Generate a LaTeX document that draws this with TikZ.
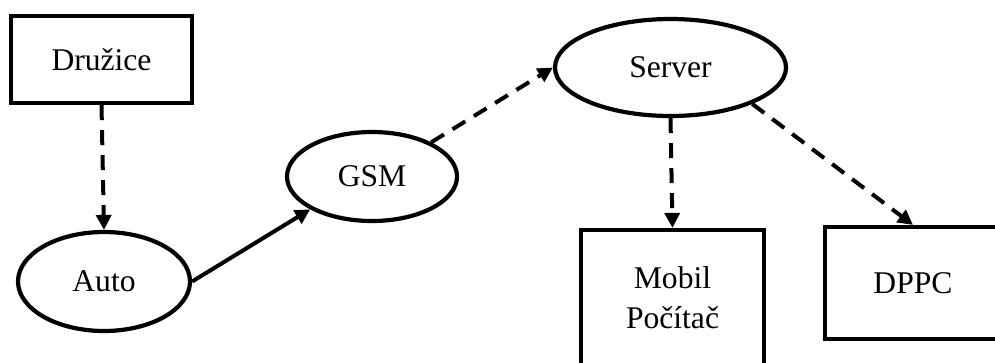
\documentclass[tikz,border=0pt]{standalone}
\usepackage{fontspec}
\setmainfont{Liberation Serif}
\usetikzlibrary{shapes.geometric,arrows.meta}
\begin{document}
\begin{tikzpicture}[x=1bp,y=-1bp,
  font=\fontsize{31.6bp}{40bp}\selectfont,
  boxnode/.style={draw,line width=4.2bp,rectangle,inner sep=0pt,align=center},
  ovalnode/.style={draw,line width=4.2bp,ellipse,inner sep=0pt},
  link/.style={line width=4bp,-{Triangle[length=15bp,width=15bp]}},
  dashlink/.style={link,dash pattern=on 15bp off 10bp}]
  \useasboundingbox (0,0) rectangle (995,362);
  \clip (0,0) rectangle (995,362);

  % nodes
  \node[boxnode,minimum width=181bp,minimum height=87bp] (druzice) at (101.5,59.5) {Družice};
  \node[ovalnode,minimum width=172bp,minimum height=99bp] (auto) at (104,281.5) {Auto};
  \node[ovalnode,minimum width=170bp,minimum height=89bp] (gsm) at (372,176.5) {GSM};
  \node[ovalnode,minimum width=231bp,minimum height=97bp] (server) at (670.5,67.5) {Server};
  \node[boxnode,minimum width=183bp,minimum height=136bp] (mobil) at (672.5,298) {Mobil\\Počítač};
  \node[boxnode,minimum width=176bp,minimum height=112bp] (dppc) at (913,283) {DPPC};

  % connectors
  \draw[dashlink] (druzice.south) -- (auto.north);
  \draw[link] (auto.east) -- (gsm.208);
  \draw[dashlink] (gsm.30) -- (server.west);
  \draw[dashlink] (server.south) -- (mobil.north);
  \draw[dashlink] (server.-24) -- (dppc.north);
\end{tikzpicture}
\end{document}
